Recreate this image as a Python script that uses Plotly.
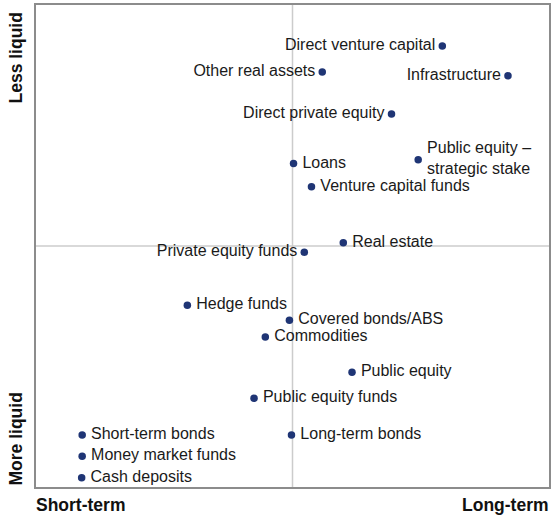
import plotly.graph_objects as go

names = [
    "Direct venture capital", "Other real assets", "Infrastructure",
    "Direct private equity", "Public equity –<br>strategic stake", "Loans",
    "Venture capital funds", "Real estate", "Private equity funds",
    "Hedge funds", "Covered bonds/ABS", "Commodities", "Public equity",
    "Public equity funds", "Short-term bonds", "Long-term bonds",
    "Money market funds", "Cash deposits",
]
horizon = [7.92, 5.58, 9.20, 6.93, 7.45, 5.02, 5.37, 5.99, 5.23,
           2.95, 4.94, 4.47, 6.16, 4.25, 0.90, 4.98, 0.90, 0.89]
illiquidity = [9.15, 8.61, 8.53, 7.74, 6.79, 6.71, 6.23, 5.07, 4.87,
               3.77, 3.46, 3.11, 2.38, 1.84, 1.08, 1.08, 0.64, 0.19]
label_side = ["middle left", "middle left", "middle left", "middle left",
              "middle right", "middle right", "middle right", "middle right",
              "middle left", "middle right", "middle right", "middle right",
              "middle right", "middle right", "middle right", "middle right",
              "middle right", "middle right"]

x_labels = ["Short-term", "Long-term"]
y_labels = ["More liquid", "Less liquid"]

pad_r = "\u2009"
pad_l = "\u200a"
shown = []
for n, side in zip(names, label_side):
    if side.endswith("right"):
        shown.append(pad_r + n.replace("<br>", "<br>" + pad_r))
    else:
        shown.append(n + pad_l)

fig = go.Figure()
fig.add_trace(go.Scatter(
    x=horizon, y=illiquidity, mode="markers+text", text=shown,
    textposition=label_side,
    marker=dict(size=7.5, color="#1f3575"),
    textfont=dict(family="Liberation Sans, Arial, sans-serif", size=16, color="#1a1a1a"),
    hoverinfo="text", cliponaxis=False,
))

fig.add_shape(type="line", xref="paper", yref="paper", x0=0.5, x1=0.5, y0=0, y1=1,
              line=dict(color="#cccccc", width=1.5), layer="below")
fig.add_shape(type="line", xref="paper", yref="paper", x0=0, x1=1, y0=0.5, y1=0.5,
              line=dict(color="#cccccc", width=1.5), layer="below")

bold = dict(family="Liberation Sans, Arial, sans-serif", size=17.5, color="#111111")
fig.add_annotation(text="<b>%s</b>" % x_labels[0], xref="paper", yref="paper", x=0, y=0,
                   xanchor="left", yanchor="top", yshift=-6, xshift=-2, showarrow=False, font=bold)
fig.add_annotation(text="<b>%s</b>" % x_labels[1], xref="paper", yref="paper", x=1, y=0,
                   xanchor="right", yanchor="top", yshift=-6, xshift=2, showarrow=False, font=bold)
fig.add_annotation(text="<b>%s</b>" % y_labels[1], xref="paper", yref="paper", x=0, y=1,
                   xanchor="right", yanchor="top", xshift=-9, yshift=-6, textangle=-90,
                   showarrow=False, font=bold)
fig.add_annotation(text="<b>%s</b>" % y_labels[0], xref="paper", yref="paper", x=0, y=0,
                   xanchor="right", yanchor="bottom", xshift=-9, yshift=-1, textangle=-90,
                   showarrow=False, font=bold)

axis_common = dict(range=[0, 10], showgrid=False, zeroline=False, showticklabels=False,
                   ticks="", showline=True, mirror=True, linecolor="#8c8c8c", linewidth=1.5,
                   fixedrange=True)
fig.update_xaxes(**axis_common)
fig.update_yaxes(**axis_common)
fig.update_layout(
    width=552, height=515, showlegend=False,
    margin=dict(l=36, r=1, t=5, b=28),
    plot_bgcolor="white", paper_bgcolor="white",
)
fig.write_html("out.html", config={"displayModeBar": False},
               post_script="document.body.style.margin='0';document.body.style.overflow='hidden';")
